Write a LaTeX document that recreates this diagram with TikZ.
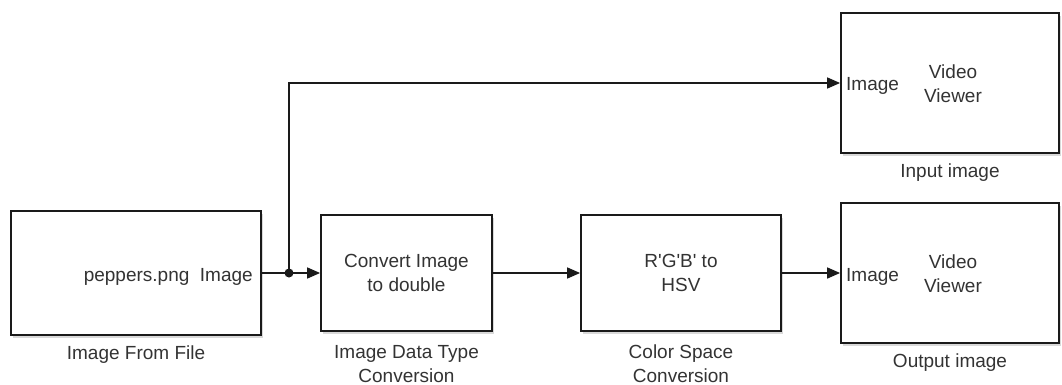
\documentclass[tikz,border=0pt]{standalone}
\usepackage{fontspec}
\setmainfont{Liberation Sans}
\usetikzlibrary{positioning,arrows.meta,shadows}
\definecolor{blkline}{HTML}{1A1A1A}
\definecolor{blktext}{HTML}{333333}
\tikzset{
  blk/.style    ={rectangle, draw=blkline, line width=1.8pt, fill=white,
                  text=blktext, align=center, inner sep=0pt,
                  drop shadow={shadow xshift=2pt, shadow yshift=-3pt, opacity=0.3}},
  port/.style   ={text=blktext, inner sep=0pt, anchor=base west},
  blkname/.style={text=blktext, align=center, inner sep=0pt},
  sig/.style    ={draw=blkline, line width=1.6pt, -{Triangle[length=13pt,width=11pt]}},
  wire/.style   ={draw=blkline, line width=1.6pt}
}
\begin{document}
\fontsize{19}{24}\selectfont
\begin{tikzpicture}[x=1pt,y=-1pt]
  \useasboundingbox (0,0) rectangle (1062,385);
  % blocks
  \node[blk,minimum width=250pt,minimum height=124pt] (ifile) at (136,273) {};
  \node[blk,minimum width=171pt,minimum height=116pt] (conv) at (406.5,273) {Convert Image\\to double};
  \node[blk,minimum width=200pt,minimum height=116pt] (csc) at (681,273)
    {R\textquotesingle G\textquotesingle B\textquotesingle\ to\\HSV};
  \node[blk,minimum width=218pt,minimum height=140pt] (vin) at (950,83) {};
  \node[blk,minimum width=218pt,minimum height=140pt] (vout) at (950,273) {};
  % texts inside the blocks
  \node[text=blktext,inner sep=0pt,anchor=base east] (fname) at (253,281) {peppers.png\ \ Image};
  \node[port] (pin) at (846,91) {Image};
  \node[text=blktext,align=center,inner sep=0pt] (tin) at (953,84) {Video\\Viewer};
  \node[port] (pout) at (846,281) {Image};
  \node[text=blktext,align=center,inner sep=0pt] (tout) at (953,274) {Video\\Viewer};
  % captions
  \node[blkname,below=10pt of ifile] (lfile) {Image From File};
  \node[blkname,below=13pt of conv] (lconv) {Image Data Type\\Conversion};
  \node[blkname,below=13pt of csc] (lcsc) {Color Space\\Conversion};
  \node[blkname,below=10pt of vin] (lin) {Input image};
  \node[blkname,below=10pt of vout] (lout) {Output image};
  % signals
  \coordinate (junc) at (289,273);
  \draw[wire] (ifile.east) -- (junc);
  \fill[blkline] (junc) circle (4.5pt);
  \draw[sig] (junc) -- (conv.west);
  \draw[sig] (junc) |- (vin.west);
  \draw[sig] (conv.east) -- (csc.west);
  \draw[sig] (csc.east) -- (vout.west);
\end{tikzpicture}
\end{document}
